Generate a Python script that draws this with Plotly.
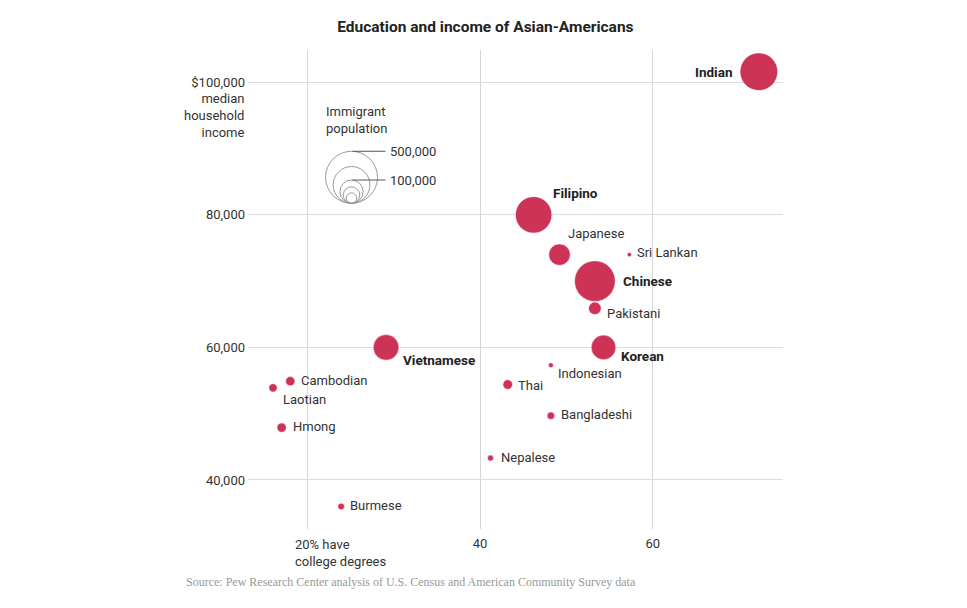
import plotly.graph_objects as go

# ---- data ----
groups = ["Indian", "Filipino", "Japanese", "Sri Lankan", "Chinese", "Pakistani",
          "Korean", "Indonesian", "Thai", "Bangladeshi", "Nepalese", "Vietnamese",
          "Cambodian", "Laotian", "Hmong", "Burmese"]
college_pct = [72.3, 46.2, 49.2, 57.3, 53.3, 53.3, 54.3, 48.2, 43.2, 48.2, 41.2, 29.1,
               18.0, 16.0, 17.0, 23.9]
median_income = [101600, 80000, 74000, 74000, 70000, 65900, 60000, 57300, 54400, 49700,
                 43300, 60000, 54900, 53900, 47900, 36000]
immigrant_pop = [262000, 245000, 85000, 3500, 305000, 29000, 112000, 4600, 17000, 10500,
                 6700, 121000, 16000, 13000, 16000, 8000]
bold_groups = ["Indian", "Filipino", "Chinese", "Vietnamese", "Korean"]

legend_values = [500000, 250000, 100000, 50000, 20000]
legend_labelled = [500000, 100000]

x_ticks = [20, 40, 60]
x_ticktext = ["", "40", "60"]
y_ticks = [40000, 60000, 80000, 100000]
y_ticktext = ["40,000", "60,000", "80,000", "$100,000"]

# ---- styling (label offsets in pixels) ----
label_offsets = {
    "Indian": (-25, 0, "right"), "Filipino": (17, 22, "left"), "Japanese": (6, 21, "left"),
    "Sri Lankan": (6, 2.5, "left"), "Chinese": (26, 0, "left"), "Pakistani": (10, -5.5, "left"),
    "Korean": (15, -8.5, "left"), "Indonesian": (5, -8.5, "left"), "Thai": (8, -0.5, "left"),
    "Bangladeshi": (8.5, 1.5, "left"), "Nepalese": (9, 1, "left"), "Vietnamese": (15, -13, "left"),
    "Cambodian": (8.5, 1, "left"), "Laotian": (8, -11.5, "left"), "Hmong": (9, 1, "left"),
    "Burmese": (6.5, 1, "left"),
}
RED = "#cc3357"
TXT = "#333333"
FONT = "Roboto, Arial, sans-serif"
R500 = 26.0                       # pixel radius of the 500,000 legend circle
SIZEREF = 500000 / (2 * R500 ** 2)  # plotly area-mode bubble scaling

fig = go.Figure()
fig.add_trace(go.Scatter(
    x=college_pct, y=median_income, mode="markers",
    marker=dict(size=immigrant_pop, sizemode="area", sizeref=SIZEREF, color=RED,
                line=dict(width=0.5, color="white"), opacity=1),
    cliponaxis=False, hoverinfo="text", text=groups, showlegend=False))

annotations = []
for g, xv, yv in zip(groups, college_pct, median_income):
    dx, dy, anc = label_offsets[g]
    b = g in bold_groups
    annotations.append(dict(
        x=xv, y=yv, xref="x", yref="y", text=f"<b>{g}</b>" if b else g,
        showarrow=False, xanchor=anc, yanchor="middle", xshift=dx, yshift=dy,
        font=dict(family=FONT, size=13.5 if b else 13, color="#222" if b else TXT)))

# size legend
LX, LY = 0.1935, 0.680
shapes = []
for v in legend_values:
    r = (v / (2 * SIZEREF)) ** 0.5
    shapes.append(dict(type="circle", xref="paper", yref="paper", xsizemode="pixel",
                       ysizemode="pixel", xanchor=LX, yanchor=LY,
                       x0=-r, x1=r, y0=0, y1=2 * r,
                       line=dict(color="#9a9a9a", width=1), fillcolor="rgba(0,0,0,0)"))
for v in legend_labelled:
    r = (v / (2 * SIZEREF)) ** 0.5
    shapes.append(dict(type="line", xref="paper", yref="paper", xsizemode="pixel",
                       ysizemode="pixel", xanchor=LX, yanchor=LY,
                       x0=1, x1=34, y0=2 * r, y1=2 * r,
                       line=dict(color="#555", width=1)))
    annotations.append(dict(x=LX, y=LY, xref="paper", yref="paper", xshift=36, yshift=2 * r,
                            text=f"{v:,}", showarrow=False, xanchor="left", yanchor="middle",
                            font=dict(family=FONT, size=13, color=TXT)))
annotations.append(dict(x=0.145, y=0.853, xref="paper", yref="paper", xshift=-2,
                        text="Immigrant<br>population", showarrow=False, align="left",
                        xanchor="left", yanchor="middle",
                        font=dict(family=FONT, size=13, color=TXT)))
annotations.append(dict(x=0, y=0.864, xref="paper", yref="paper", xshift=-1,
                        text="median<br>household<br>income", showarrow=False, align="right",
                        xanchor="right", yanchor="middle",
                        font=dict(family=FONT, size=13, color=TXT)))
annotations.append(dict(x=20, y=0, xref="x", yref="paper", xshift=-15, yshift=-6,
                        text="20% have<br>college degrees", showarrow=False, align="left",
                        xanchor="left", yanchor="top",
                        font=dict(family=FONT, size=13, color=TXT)))
annotations.append(dict(x=-0.1159, y=-0.1106, xref="paper", yref="paper", xshift=-2,
                        text="Source: Pew Research Center analysis of U.S. Census and American Community Survey data",
                        showarrow=False, xanchor="left", yanchor="middle",
                        font=dict(family="Liberation Serif, Georgia, serif", size=12, color="#999")))

fig.update_layout(
    width=967, height=608,
    margin=dict(l=248, r=184, t=50, b=79),
    paper_bgcolor="white", plot_bgcolor="white",
    title=dict(text="<b>Education and income of Asian-Americans</b>", xref="container",
               x=0.502, xanchor="center", y=1 - 27 / 608, yanchor="middle",
               font=dict(family=FONT, size=15.5, color="#222")),
    xaxis=dict(range=[13.1, 75.1], tickvals=x_ticks, ticktext=x_ticktext, showgrid=True,
               gridcolor="#d6d6d6", gridwidth=1, zeroline=False, showline=False, ticks="",
               tickfont=dict(family=FONT, size=13, color=TXT), ticklabelstandoff=5),
    yaxis=dict(range=[32600, 104875], tickvals=y_ticks, ticktext=y_ticktext, showgrid=True,
               gridcolor="#dcdcdc", gridwidth=1, zeroline=False, showline=False, ticks="",
               tickfont=dict(family=FONT, size=13, color=TXT), ticklabelstandoff=2),
    shapes=shapes, annotations=annotations, showlegend=False,
)
fig.write_html("out.html", config={"displayModeBar": False},
               post_script="document.body.style.margin='0';document.body.style.overflow='hidden';")
